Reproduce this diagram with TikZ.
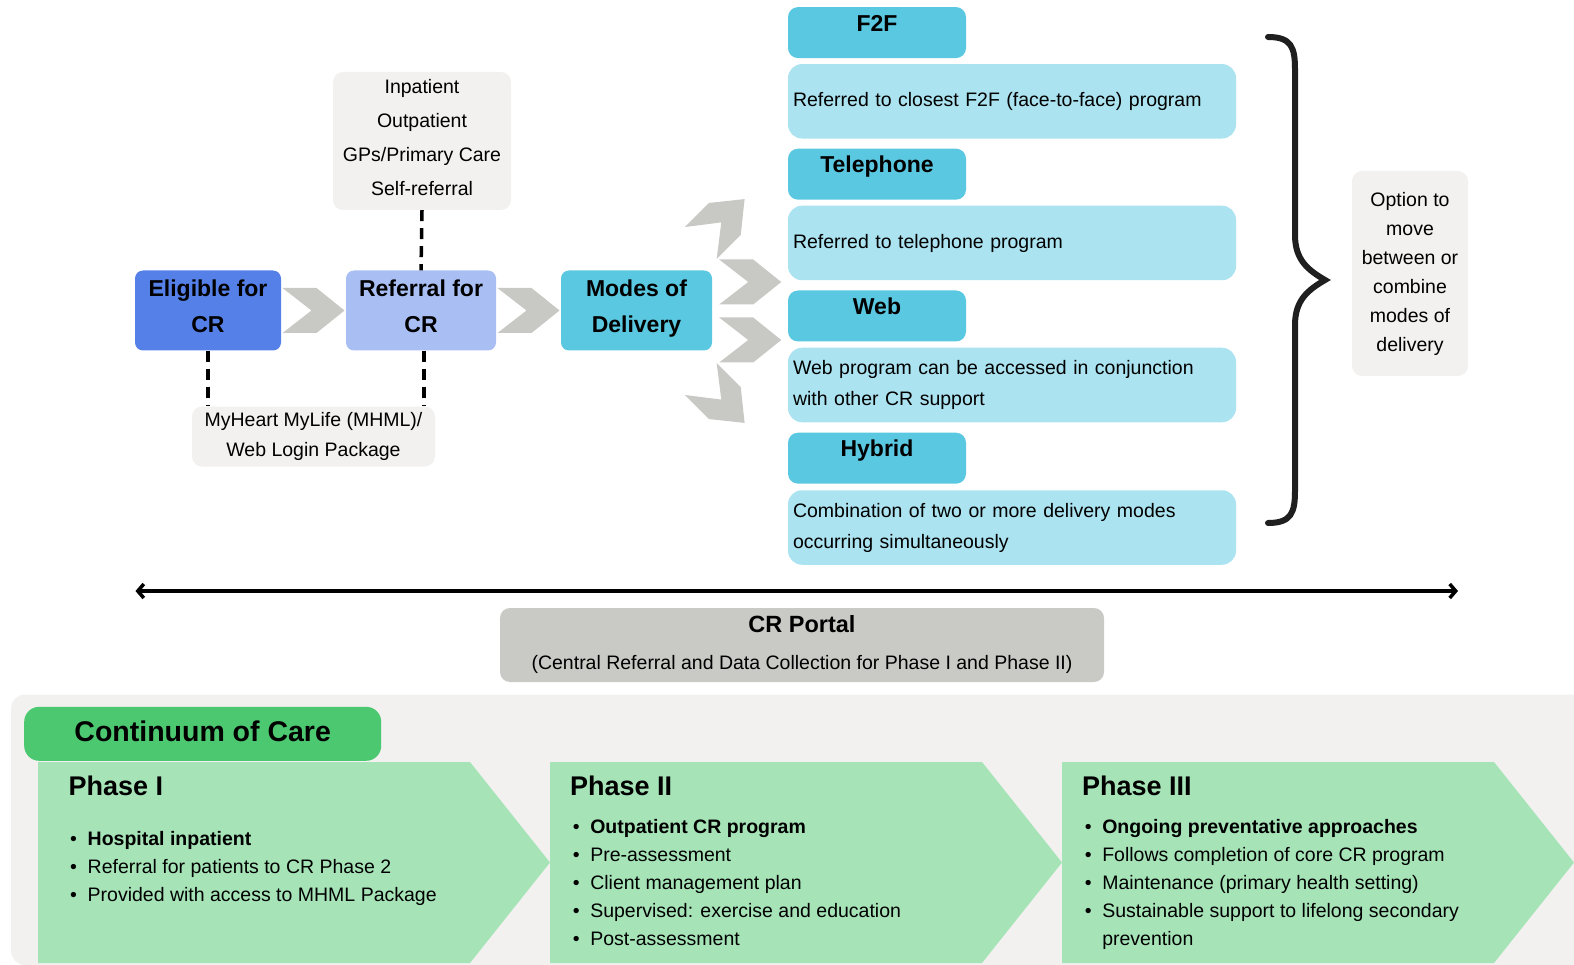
\documentclass[tikz,border=0pt]{standalone}
\usepackage{fontspec}
\setmainfont{Liberation Sans}
\usepackage{xcolor}
\usetikzlibrary{calc,arrows.meta}

\definecolor{eligblue}{HTML}{5580E8}
\definecolor{referlilac}{HTML}{A9BFF3}
\definecolor{modecyan}{HTML}{5AC8E0}
\definecolor{bodycyan}{HTML}{ABE3F0}
\definecolor{softgrey}{HTML}{F2F1EF}
\definecolor{chevgrey}{HTML}{C8C8C4}
\definecolor{portalgrey}{HTML}{C9C9C5}
\definecolor{tabgreen}{HTML}{4CC970}
\definecolor{phasemint}{HTML}{A6E4B8}

\newcommand{\crbul}{\makebox[17.5pt][l]{\textbullet}}
\newcommand{\crlift}[1]{\rule[-#1]{0pt}{#1}}

\begin{document}
\begin{tikzpicture}[x=1pt,y=-1pt,
  stepbox/.style={rounded corners=8pt, inner sep=0pt, align=center, minimum height=80pt, font=\bfseries\fontsize{23}{36}\selectfont},
  infobox/.style={rounded corners=10pt, fill=softgrey, inner sep=0pt, align=center},
  modehead/.style={rounded corners=10pt, fill=modecyan, minimum width=178pt, minimum height=51pt, inner sep=0pt, text height=17pt, text depth=20pt, font=\bfseries\fontsize{23}{28}\selectfont},
  modebody/.style={rounded corners=14pt, fill=bodycyan, minimum height=74.5pt, inner xsep=5pt, inner ysep=0pt, text width=438pt, align=left, font=\fontsize{19.5}{31}\selectfont},
  dashline/.style={line width=3.5pt, dash pattern=on 11pt off 7pt},
  phasehead/.style={inner sep=0pt, anchor=west, font=\bfseries\fontsize{27}{32}\selectfont},
  phasetext/.style={inner sep=0pt, anchor=north west, align=left, font=\fontsize{19.5}{28}\selectfont},
  chev/.pic={\fill[chevgrey] (-31,-22.5) -- (3,-22.5) -- (31,0) -- (3,22.5) -- (-31,22.5) -- (-2,0) -- cycle;}]
\useasboundingbox (0,0) rectangle (1574,965);

% referral path
\node[stepbox, fill=eligblue, minimum width=146pt] (elig) at (208,310.5) {Eligible for\\CR\crlift{8pt}};
\node[stepbox, fill=referlilac, minimum width=150pt] (refr) at (421,310.5) {Referral for\\CR\crlift{8pt}};
\node[stepbox, fill=modecyan, minimum width=151pt] (mods) at (636.5,310.5) {Modes of\\Delivery\crlift{8pt}};
\pic at ($(elig.east)!.5!(refr.west)$) {chev};
\pic at ($(refr.east)!.5!(mods.west)$) {chev};

\pic[rotate=45] at ($(mods.east)+(10.5,-89.5)$) {chev};
\pic at ($(mods.east)+(38,-28.5)$) {chev};
\pic at ($(mods.east)+(38,29.5)$) {chev};
\pic[rotate=-45] at ($(mods.east)+(10.5,90.5)$) {chev};

\node[infobox, minimum width=178pt, minimum height=138pt, font=\fontsize{19.5}{34}\selectfont] (inp) at (422,141) {Inpatient\\Outpatient\\GPs/Primary Care\\Self-referral\crlift{7pt}};
\node[infobox, minimum width=243pt, minimum height=60pt, font=\fontsize{19.5}{30}\selectfont] (mhml) at (313.5,436.5) {MyHeart MyLife (MHML)/\\Web Login Package};

\draw[dashline] (inp.south) -- (refr.north);
\draw[dashline] (elig.south) -- (elig.south |- mhml.north);
\draw[dashline] ($(refr.south)+(3,0)$) -- ($(refr.south |- mhml.north)+(3,0)$);

% modes of delivery
\node[modehead] (f2fh) at (877,32.6) {F2F};
\node[modebody] (f2fb) at (1012,101.3) {Referred to closest F2F (face-to-face) program};
\node[modehead] (telh) at (877,174.2) {Telephone};
\node[modebody] (telb) at (1012,243) {Referred to telephone program};
\node[modehead] (webh) at (877,316) {Web};
\node[modebody] (webb) at (1012,385) {Web program can be accessed in conjunction\\with other CR support};
\node[modehead] (hybh) at (877,458.2) {Hybrid};
\node[modebody] (hybb) at (1012,527.5) {Combination of two or more delivery modes\\occurring simultaneously};

\draw[line width=6pt, line cap=round, black!88] (1268,37) .. controls (1292,37) and (1295,48) .. (1295,70) -- (1295,235) .. controls (1295,260) and (1308,270) .. (1325,280) .. controls (1308,290) and (1295,300) .. (1295,325) -- (1295,490) .. controls (1295,512) and (1292,523) .. (1268,523);

\node[infobox, minimum width=116pt, minimum height=205pt, font=\fontsize{19.5}{29}\selectfont] (opt) at (1410,273.5) {Option to\\move\\between or\\combine\\modes of\\delivery};

% portal
\coordinate (aleft) at (135.5,591);
\coordinate (aright) at (1458,591);
\draw[line width=3.5pt, {Straight Barb[length=6pt,width=14pt]}-{Straight Barb[length=6pt,width=14pt]}] (aleft) -- (aright);

\node[infobox, fill=portalgrey, minimum width=604pt, minimum height=74pt, font=\fontsize{19.5}{37}\selectfont] (portal) at (802,645) {{\bfseries\fontsize{23.5}{37}\selectfont CR Portal}\\(Central Referral and Data Collection for Phase I and Phase II)};

% continuum of care
\fill[softgrey, rounded corners=14pt] (11,694.5) rectangle (1640,965);

\coordinate (ph1) at (38,762);
\coordinate (ph2) at (550,762);
\coordinate (ph3) at (1062,762);
\fill[phasemint] (ph1) -- ++(432,0) -- ++(80,100.5) -- ++(-80,100.5) -- ++(-432,0) -- cycle;
\fill[phasemint] (ph2) -- ++(432,0) -- ++(80,100.5) -- ++(-80,100.5) -- ++(-432,0) -- cycle;
\fill[phasemint] (ph3) -- ++(432,0) -- ++(80,100.5) -- ++(-80,100.5) -- ++(-432,0) -- cycle;

\node[rounded corners=15pt, fill=tabgreen, minimum width=357pt, minimum height=54pt, inner sep=0pt, text depth=5pt, font=\bfseries\fontsize{28.5}{33}\selectfont] (cont) at (202.7,733.8) {Continuum of Care};

\node[phasehead] (ph1t) at ($(ph1)+(30.5,24)$) {Phase I};
\node[phasetext] (ph1b) at ($(ph1)+(32,69)$) {\crbul\textbf{Hospital inpatient}\\\crbul Referral for patients to CR Phase 2\\\crbul Provided with access to MHML Package};

\node[phasehead] (ph2t) at ($(ph2)+(20,24)$) {Phase II};
\node[phasetext] (ph2b) at ($(ph2)+(22.6,57)$) {\crbul\textbf{Outpatient CR program}\\\crbul Pre-assessment\\\crbul Client management plan\\\crbul Supervised: exercise and education\\\crbul Post-assessment};

\node[phasehead] (ph3t) at ($(ph3)+(20,24)$) {Phase III};
\node[phasetext] (ph3b) at ($(ph3)+(22.6,57)$) {\crbul\textbf{Ongoing preventative approaches}\\\crbul Follows completion of core CR program\\\crbul Maintenance (primary health setting)\\\crbul Sustainable support to lifelong secondary\\\hspace*{17.5pt}prevention};
\end{tikzpicture}
\end{document}
